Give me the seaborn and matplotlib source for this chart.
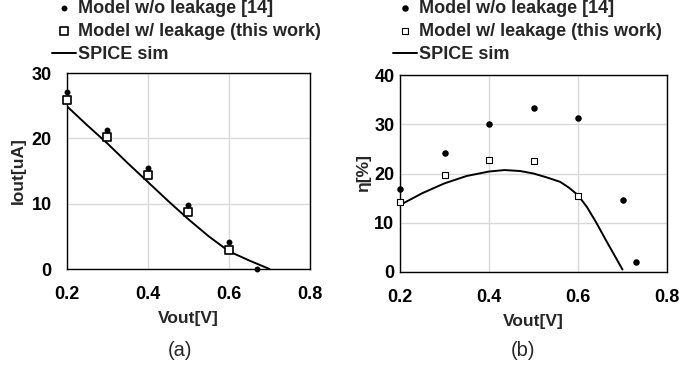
import matplotlib
matplotlib.use("Agg")
import matplotlib.pyplot as plt
import seaborn as sns
import pandas as pd

# ---- data (a) ----
vout_a_dots = [0.2, 0.3, 0.4, 0.5, 0.6, 0.67]
iout_dots = [27.1, 21.3, 15.5, 9.8, 4.1, 0.0]
vout_a_sq = [0.2, 0.3, 0.4, 0.5, 0.6]
iout_sq = [25.9, 20.2, 14.4, 8.7, 2.9]
spice_a_v = [0.2, 0.25, 0.3, 0.35, 0.4, 0.45, 0.5, 0.55, 0.6, 0.65, 0.70]
spice_a_i = [24.9, 22.0, 19.2, 16.2, 13.3, 10.4, 7.6, 5.0, 2.7, 1.3, 0.0]

# ---- data (b) ----
vout_b_dots = [0.2, 0.3, 0.4, 0.5, 0.6, 0.7, 0.73]
eta_dots = [16.8, 24.1, 30.0, 33.3, 31.2, 14.6, 2.1]
vout_b_sq = [0.2, 0.3, 0.4, 0.5, 0.6]
eta_sq = [14.2, 19.6, 22.7, 22.5, 15.4]
spice_b_v = [0.2, 0.25, 0.3, 0.35, 0.4, 0.435, 0.47, 0.5, 0.53, 0.56, 0.58, 0.6,
             0.62, 0.64, 0.665, 0.7]
spice_b_eta = [13.6, 16.0, 18.0, 19.5, 20.4, 20.7, 20.5, 20.0, 19.2, 18.3, 17.1, 15.6,
               13.2, 10.2, 6.1, 0.5]

x_ticks = [0.2, 0.4, 0.6, 0.8]
yticks_a = [0, 10, 20, 30]
yticks_b = [0, 10, 20, 30, 40]
legend_labels = ["Model w/o leakage [14]", "Model w/ leakage (this work)", "SPICE sim"]

sns.set_style("white")
plt.rcParams['font.family'] = ['Liberation Sans', 'DejaVu Sans']

W, H = 681, 373
fig = plt.figure(figsize=(W / 100, H / 100), dpi=100)

def px_axes(l, t, r, b):
    return fig.add_axes([l / W, 1 - b / H, (r - l) / W, (b - t) / H])

ax_a = px_axes(67, 73, 310, 269)
ax_b = px_axes(400, 75, 667, 272)

FS_T = 13
FS_L = 12.5
FS_LEG = 13

def style(ax, ylim, yticks, ylabel, ypad, ylabelpad):
    ax.set_xlim(0.2, 0.8)
    ax.set_ylim(*ylim)
    ax.set_xticks(x_ticks)
    ax.set_xticklabels([f"{t:.1f}" for t in x_ticks], fontsize=FS_T, fontweight='bold')
    ax.set_yticks(yticks)
    ax.set_yticklabels([str(t) for t in yticks], fontsize=FS_T, fontweight='bold')
    ax.grid(True, color='#d9d9d9', linewidth=1.0)
    ax.set_axisbelow(True)
    for s in ax.spines.values():
        s.set_color('black')
        s.set_linewidth(1.0)
        s.set_visible(True)
    ax.tick_params(axis='x', direction='in', length=4, width=1, pad=12, colors='black')
    ax.tick_params(axis='y', direction='in', length=4, width=1, pad=ypad, colors='black')
    ax.set_xlabel("Vout[V]", fontsize=FS_L, fontweight='bold', labelpad=6)
    ax.set_ylabel(ylabel, fontsize=FS_L, fontweight='bold', labelpad=ylabelpad)

def draw(ax, vd, yd, vs, ys, vl, yl, dot_size, sq_size, sq_lw):
    sns.scatterplot(x=vd, y=yd, ax=ax, color='black', marker='o', s=dot_size,
                    edgecolor='black', linewidth=0, label=legend_labels[0], zorder=6,
                    clip_on=False)
    sns.scatterplot(x=vs, y=ys, ax=ax, marker='s', s=sq_size, facecolor='white',
                    edgecolor='black', linewidth=sq_lw, label=legend_labels[1], zorder=5,
                    clip_on=False)
    sns.lineplot(x=vl, y=yl, ax=ax, color='black', linewidth=1.4,
                 label=legend_labels[2], zorder=3)

draw(ax_a, vout_a_dots, iout_dots, vout_a_sq, iout_sq, spice_a_v, spice_a_i, 18, 30, 1.2)
draw(ax_b, vout_b_dots, eta_dots, vout_b_sq, eta_sq, spice_b_v, spice_b_eta, 22, 22, 0.8)

style(ax_a, (0, 30), yticks_a, "Iout[uA]", 11, 4)
style(ax_b, (0, 40), yticks_b, "η[%]", 4, 2)

for ax, lx in ((ax_a, 52), (ax_b, 393)):
    h, l = ax.get_legend_handles_labels()
    ax.legend(h, l, loc='upper left', bbox_to_anchor=(lx / W, 1.0),
              bbox_transform=fig.transFigure, frameon=False, borderpad=0,
              borderaxespad=0, handlelength=1.35, handletextpad=0.1,
              labelspacing=0.33, prop={'size': FS_LEG, 'weight': 'bold'})

fig.text(180 / W, 1 - 350 / H, "(a)", ha='center', va='center', fontsize=14.5)
fig.text(523 / W, 1 - 350 / H, "(b)", ha='center', va='center', fontsize=14.5)

fig.savefig("out.png", dpi=100)
